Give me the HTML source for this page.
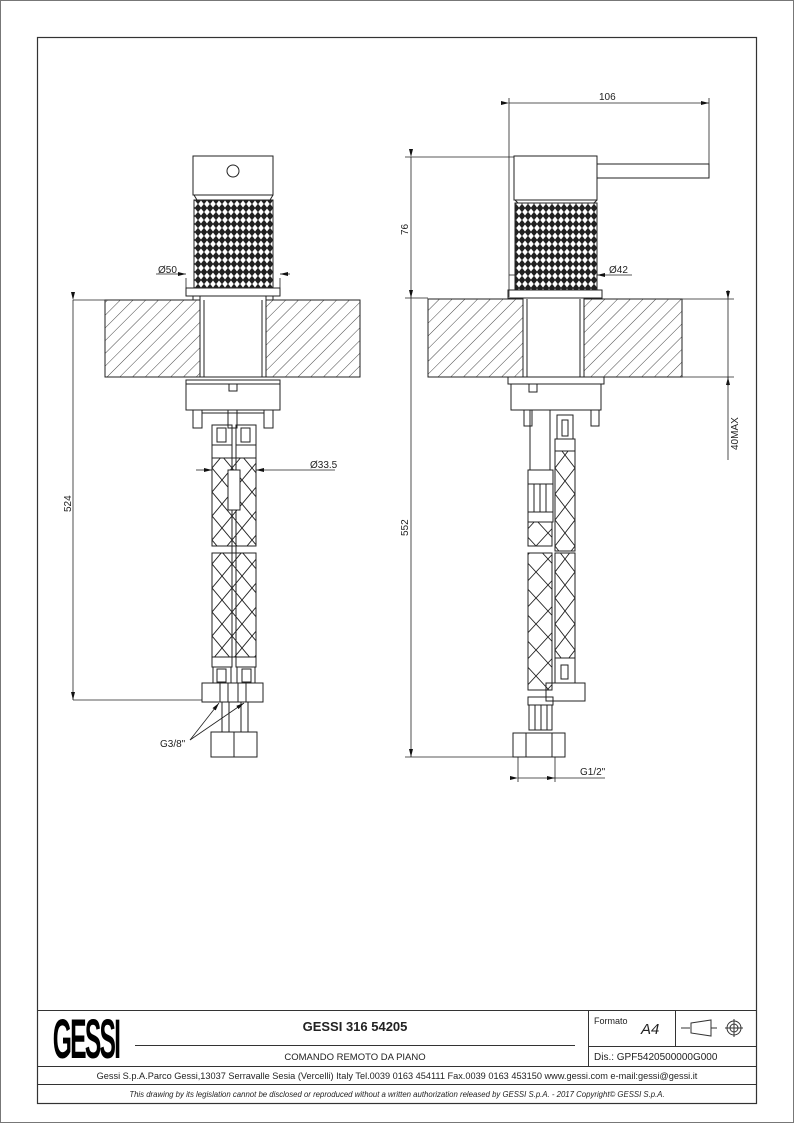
<!DOCTYPE html>
<html><head><meta charset="utf-8"><style>
html,body{margin:0;padding:0;background:#fff}
svg{display:block}
text{font-family:"Liberation Sans",sans-serif;fill:#222}
</style></head><body>
<svg width="794" height="1123" viewBox="0 0 794 1123" xmlns="http://www.w3.org/2000/svg">
<defs>
<pattern id="hatch" width="9" height="9" patternUnits="userSpaceOnUse" patternTransform="rotate(45)">
<line x1="0" y1="0" x2="0" y2="9" stroke="#333" stroke-width="0.9"/>
</pattern>
<pattern id="knurl" width="6" height="8" patternUnits="userSpaceOnUse">
<rect width="6" height="8" fill="#222"/>
<path d="M3 0.5 L5.8 4 L3 7.5 L0.2 4 Z" fill="#fff"/>
</pattern>
<pattern id="braid" x="2" width="20" height="24" patternUnits="userSpaceOnUse">
<path d="M0 0 L20 24 M20 0 L0 24" stroke="#222" stroke-width="0.9" fill="none"/>
</pattern>
<pattern id="braid2" x="8" width="24" height="26" patternUnits="userSpaceOnUse">
<path d="M0 0 L24 26 M24 0 L0 26" stroke="#222" stroke-width="0.9" fill="none"/>
</pattern>
<pattern id="braid3" x="15" width="20" height="26" patternUnits="userSpaceOnUse">
<path d="M0 0 L20 26 M20 0 L0 26" stroke="#222" stroke-width="0.9" fill="none"/>
</pattern>
<marker id="ar" markerWidth="8" markerHeight="6" refX="8" refY="3" orient="auto" markerUnits="userSpaceOnUse">
<path d="M0 1 L8 3 L0 5 Z" fill="#111"/>
</marker>
</defs>
<rect x="0.5" y="0.5" width="793" height="1122" fill="none" stroke="#777" stroke-width="1"/>
<rect x="37.5" y="37.5" width="719" height="1066" fill="none" stroke="#333" stroke-width="1.2"/>

<g stroke="#222" stroke-width="1" fill="none">
<!-- LEFT VIEW -->
<rect x="193" y="156" width="80" height="39" fill="#fff"/>
<circle cx="233" cy="171" r="6"/>
<path d="M194 195 L197 200 L270 200 L273 195"/>
<rect x="194" y="200" width="79" height="88" fill="url(#knurl)"/>
<rect x="186" y="288" width="94" height="8" fill="#fff"/>
<rect x="105" y="300" width="255" height="77" fill="url(#hatch)"/>
<rect x="200" y="296" width="66" height="81" fill="#fff"/>
<line x1="204" y1="300" x2="204" y2="377"/><line x1="262" y1="300" x2="262" y2="377"/>
<line x1="193" y1="296" x2="193" y2="300"/><line x1="273" y1="296" x2="273" y2="300"/>
<rect x="186" y="380" width="94" height="30" fill="#fff"/>
<line x1="186" y1="384" x2="280" y2="384"/>
<rect x="229" y="384" width="8" height="7"/>
<rect x="193" y="410" width="9" height="18"/><rect x="228" y="410" width="9" height="18"/><rect x="264" y="410" width="9" height="18"/>
<line x1="202" y1="413" x2="264" y2="413"/>
<rect x="212" y="425" width="20" height="20"/><rect x="217" y="428" width="9" height="14"/>
<rect x="236" y="425" width="20" height="20"/><rect x="241" y="428" width="9" height="14"/>
<rect x="212" y="445" width="20" height="13"/><rect x="236" y="445" width="20" height="13"/>
<rect x="212" y="458" width="44" height="88" fill="url(#braid)"/>
<rect x="212" y="553" width="44" height="104" fill="url(#braid)"/>
<line x1="232" y1="458" x2="232" y2="657"/><line x1="236" y1="458" x2="236" y2="657"/>
<rect x="228" y="470" width="12" height="40" fill="#fff"/>
<rect x="212" y="657" width="20" height="10"/><rect x="236" y="657" width="20" height="10"/>
<rect x="213" y="667" width="18" height="16"/><rect x="217" y="669" width="9" height="13"/>
<rect x="237" y="667" width="18" height="16"/><rect x="242" y="669" width="9" height="13"/>
<rect x="202" y="683" width="61" height="19" fill="#fff"/>
<line x1="220" y1="683" x2="220" y2="702"/><line x1="246" y1="683" x2="246" y2="702"/>
<line x1="228" y1="683" x2="228" y2="702"/><line x1="238" y1="683" x2="238" y2="702"/>
<rect x="222" y="702" width="26" height="30"/>
<line x1="229" y1="702" x2="229" y2="732"/><line x1="241" y1="702" x2="241" y2="732"/>
<rect x="211" y="732" width="46" height="25" fill="#fff"/>
<line x1="234" y1="732" x2="234" y2="757"/>

<!-- RIGHT VIEW -->
<rect x="514" y="156" width="83" height="44" fill="#fff"/>
<rect x="597" y="164" width="112" height="14" fill="#fff"/>
<path d="M515 200 L518 203 L594 203 L597 200"/>
<rect x="515" y="203" width="82" height="87" fill="url(#knurl)"/>
<rect x="508" y="290" width="94" height="8" fill="#fff"/>
<rect x="428" y="299" width="254" height="78" fill="url(#hatch)"/>
<rect x="523" y="298" width="61" height="79" fill="#fff"/>
<line x1="527" y1="299" x2="527" y2="377"/><line x1="580" y1="299" x2="580" y2="377"/>
<rect x="508" y="377" width="96" height="7" fill="#fff"/>
<rect x="511" y="384" width="90" height="26" fill="#fff"/>
<rect x="529" y="384" width="8" height="8"/>
<rect x="524" y="410" width="8" height="16"/><rect x="591" y="410" width="8" height="16"/>
<line x1="530" y1="410" x2="530" y2="470"/><line x1="550" y1="410" x2="550" y2="470"/>
<rect x="557" y="415" width="16" height="24"/><rect x="562" y="420" width="6" height="16"/>
<rect x="555" y="439" width="20" height="12"/>
<rect x="555" y="451" width="20" height="100" fill="url(#braid3)"/>
<rect x="555" y="553" width="20" height="105" fill="url(#braid3)"/>
<rect x="555" y="658" width="20" height="25"/><rect x="561" y="665" width="7" height="14"/>
<rect x="546" y="683" width="39" height="18" fill="#fff"/>
<rect x="528" y="470" width="25" height="14"/><rect x="528" y="484" width="25" height="28"/>
<line x1="534" y1="484" x2="534" y2="512"/><line x1="540" y1="484" x2="540" y2="512"/><line x1="546" y1="484" x2="546" y2="512"/>
<rect x="528" y="512" width="25" height="10"/>
<rect x="528" y="522" width="24" height="24" fill="url(#braid2)"/>
<rect x="528" y="553" width="24" height="137" fill="url(#braid2)"/>
<rect x="528" y="697" width="25" height="8"/>
<rect x="529" y="705" width="23" height="25"/>
<line x1="535" y1="705" x2="535" y2="730"/><line x1="541" y1="705" x2="541" y2="730"/><line x1="547" y1="705" x2="547" y2="730"/>
<rect x="513" y="733" width="52" height="24" fill="#fff"/>
<line x1="526" y1="733" x2="526" y2="757"/><line x1="552" y1="733" x2="552" y2="757"/>
</g>

<g stroke="#222" stroke-width="0.8" fill="none">
<line x1="73" y1="300" x2="105" y2="300"/><line x1="73" y1="700" x2="202" y2="700"/>
<line x1="73" y1="300" x2="73" y2="700" marker-start="url(#ar)" marker-end="url(#ar)"/>
<line x1="186" y1="278" x2="186" y2="288"/><line x1="280" y1="278" x2="280" y2="288"/>
<line x1="156" y1="274" x2="186" y2="274" marker-end="url(#ar)"/>
<line x1="290" y1="274" x2="280" y2="274" marker-end="url(#ar)"/>
<line x1="212" y1="458" x2="212" y2="470"/><line x1="256" y1="458" x2="256" y2="470"/>
<line x1="196" y1="470" x2="212" y2="470" marker-end="url(#ar)"/>
<line x1="335" y1="470" x2="256" y2="470" marker-end="url(#ar)"/>
<line x1="190" y1="740" x2="219" y2="703" marker-end="url(#ar)"/>
<line x1="190" y1="740" x2="244" y2="703" marker-end="url(#ar)"/>
<line x1="509" y1="98" x2="509" y2="297"/><line x1="709" y1="98" x2="709" y2="164"/>
<line x1="509" y1="103" x2="709" y2="103" marker-start="url(#ar)" marker-end="url(#ar)"/>
<line x1="405" y1="157" x2="514" y2="157"/><line x1="405" y1="298" x2="428" y2="298"/>
<line x1="411" y1="157" x2="411" y2="298" marker-start="url(#ar)" marker-end="url(#ar)"/>
<line x1="411" y1="298" x2="411" y2="757" marker-end="url(#ar)"/>
<line x1="405" y1="757" x2="513" y2="757"/>
<line x1="509" y1="275" x2="515" y2="275"/>
<line x1="632" y1="275" x2="597" y2="275" marker-end="url(#ar)"/>
<line x1="682" y1="299" x2="734" y2="299"/><line x1="682" y1="377" x2="734" y2="377"/>
<line x1="728" y1="290" x2="728" y2="299" marker-end="url(#ar)"/>
<line x1="728" y1="386" x2="728" y2="377" marker-end="url(#ar)"/>
<line x1="728" y1="299" x2="728" y2="460"/>
<line x1="518" y1="757" x2="518" y2="782"/><line x1="555" y1="757" x2="555" y2="782"/>
<line x1="518" y1="778" x2="555" y2="778" marker-start="url(#ar)" marker-end="url(#ar)"/>
<line x1="555" y1="778" x2="605" y2="778"/>
</g>
<g font-size="10">
<text x="158" y="273">Ø50</text>
<text x="310" y="468">Ø33.5</text>
<text x="160" y="747">G3/8"</text>
<text x="609" y="273">Ø42</text>
<text x="599" y="100">106</text>
<text x="580" y="775">G1/2"</text>
<text transform="translate(71,512) rotate(-90)">524</text>
<text transform="translate(408,235) rotate(-90)">76</text>
<text transform="translate(408,536) rotate(-90)">552</text>
<text transform="translate(738,450) rotate(-90)">40MAX</text>
</g>

<g stroke="#333" stroke-width="1" fill="none">
<line x1="37" y1="1010.5" x2="757" y2="1010.5"/>
<line x1="37" y1="1066.5" x2="757" y2="1066.5"/>
<line x1="37" y1="1084.5" x2="757" y2="1084.5"/>
<line x1="588.5" y1="1010" x2="588.5" y2="1066"/>
<line x1="588" y1="1046.5" x2="757" y2="1046.5"/>
<line x1="675.5" y1="1010" x2="675.5" y2="1046"/>
<line x1="135" y1="1045.5" x2="575" y2="1045.5"/>
<path d="M681 1028 L690 1028 M691 1023 L711 1020 L711 1036 L691 1033 Z M711 1028 L717 1028"/>
<circle cx="734" cy="1028" r="7"/><circle cx="734" cy="1028" r="4"/>
<path d="M725 1028 L743 1028 M734 1019 L734 1037"/>
</g>
<text x="86" y="1058" font-size="56" font-weight="bold" text-anchor="middle" transform="translate(86,0) scale(0.44,1) translate(-86,0)" style="fill:#000;letter-spacing:-4px">GESSI</text>
<text x="355" y="1031" font-size="13" font-weight="bold" text-anchor="middle">GESSI 316 54205</text>
<text x="355" y="1060" font-size="9.5" text-anchor="middle">COMANDO REMOTO DA PIANO</text>
<text x="594" y="1024" font-size="9">Formato</text>
<text x="641" y="1034" font-size="15" font-style="italic">A4</text>
<text x="594" y="1060" font-size="10">Dis.: GPF5420500000G000</text>
<text x="397" y="1079" font-size="9.2" text-anchor="middle">Gessi S.p.A.Parco Gessi,13037 Serravalle Sesia (Vercelli) Italy Tel.0039 0163 454111 Fax.0039 0163 453150 www.gessi.com e-mail:gessi@gessi.it</text>
<text x="397" y="1097" font-size="7.8" font-style="italic" text-anchor="middle">This drawing by its legislation cannot be disclosed or reproduced without a written authorization released by GESSI S.p.A. - 2017 Copyright© GESSI S.p.A.</text>
</svg>
</body></html>
